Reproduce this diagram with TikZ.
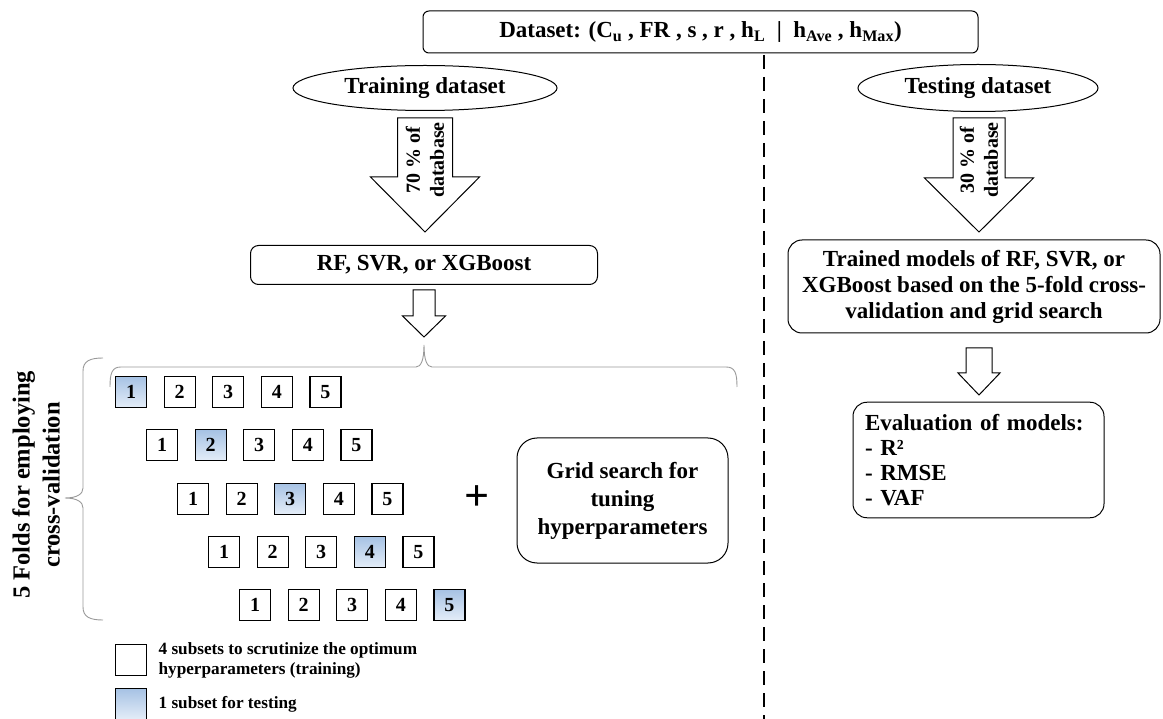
\documentclass[tikz,border=0pt]{standalone}
\usepackage{fontspec}
\setmainfont{Liberation Serif}
\usetikzlibrary{positioning,shapes.geometric}
\definecolor{foldblue}{RGB}{166,194,228}
\definecolor{foldpale}{RGB}{228,237,248}
\newcommand{\blockarrow}[6]{% x, top, half shaft, half head, head start, tip
  \draw[line width=1pt,fill=white] (#1-#3,#2) -- (#1+#3,#2) -- (#1+#3,#5)
    -- (#1+#4,#5) -- (#1,#6) -- (#1-#4,#5) -- (#1-#3,#5) -- cycle;}
\tikzset{%
  bigfont/.style={font=\bfseries\fontsize{23}{27}\selectfont},
  rbox/.style={draw,rounded corners=8pt,line width=1pt,align=center,bigfont},
  oval/.style={draw,ellipse,line width=1pt,inner sep=0pt,bigfont},
  arrowlabel/.style={rotate=90,align=center,font=\bfseries\fontsize{20}{24}\selectfont},
  trainfold/.style={draw,line width=1.2pt,minimum size=31pt,inner sep=0pt,
    font=\bfseries\fontsize{20}{20}\selectfont},
  testfold/.style={trainfold,top color=foldblue,bottom color=foldpale},
  keytext/.style={align=left,font=\bfseries\fontsize{17.2}{20}\selectfont},
  bracket/.style={draw=gray!80,line width=.9pt}
}

\begin{document}
\begin{tikzpicture}[x=1pt,y=-1pt]
  \useasboundingbox (0,0) rectangle (1163,719);

  % header and divider
  \node[rbox,rounded corners=6pt,minimum width=555pt,minimum height=42pt] (data) at (700.5,32)
    {Dataset: (C\textsubscript{u} , FR , s , r , h\textsubscript{L} \ | \ h\textsubscript{Ave} , h\textsubscript{Max})};
  \coordinate (divtop) at (764,55);
  \coordinate (divbot) at (764,719);
  \draw[line width=1.2pt,dash pattern=on 14pt off 8pt] (divtop) -- (divbot);

  % training side
  \node[oval,minimum width=264pt,minimum height=45pt] (train) at (425,88) {Training dataset};
  \blockarrow{425}{118}{27.5}{54.5}{177}{232}
  \node[arrowlabel] (trainshare) at (425,160) {70 \% of\\database};
  \node[rbox,minimum width=347pt,minimum height=39pt] (models) at (424,265) {RF, SVR, or XGBoost};
  \blockarrow{424}{290}{11}{21.5}{316}{337}

  % braces round the folds
  \draw[bracket] (110,387) .. controls (110,373) and (112,367) .. (121,367) -- (416,367)
    .. controls (421,367) and (424,360) .. (424,345) .. controls (424,360) and (427,367) .. (432,367)
    -- (726,367) .. controls (735,367) and (737,373) .. (737,387);
  \draw[bracket] (103,358) .. controls (90,358) and (83,361) .. (83,371) -- (83,488)
    .. controls (83,494) and (77,498) .. (65,498) .. controls (77,498) and (83,502) .. (83,508)
    -- (83,607) .. controls (83,617) and (90,620) .. (103,620);
  \node[rotate=90,align=center,font=\bfseries\fontsize{24.5}{30}\selectfont] (foldlabel) at (36,485)
    {5 Folds for employing\\cross-validation};

  % the five folds
  \foreach \r in {1,...,5} {
    \foreach \c in {1,...,5} {
      \ifnum\c=\r \def\sty{testfold}\else\def\sty{trainfold}\fi
      \node[\sty] (f\r\c) at ({131+31*(\r-1)+48.6*(\c-1)},{392+53.3*(\r-1)}) {\c};
    }
  }

  \node[font=\bfseries\fontsize{44}{44}\selectfont] (plus) at (477,498) {+};
  \node[rbox,rounded corners=20pt,minimum width=211pt,minimum height=125pt,
    font=\bfseries\fontsize{23}{28}\selectfont] (grid) at (622.5,500.5)
    {Grid search for\\tuning\\hyperparameters};

  % key
  \node[trainfold] (keytrain) at (131,660) {};
  \node[keytext,right=8pt of keytrain] (keytraintext) {4 subsets to scrutinize the optimum\\hyperparameters (training)};
  \node[testfold] (keytest) at (131,704) {};
  \node[keytext,right=8pt of keytest] (keytesttext) {1 subset for testing};

  % testing side
  \node[oval,minimum width=240pt,minimum height=47pt] (test) at (978,88) {Testing dataset};
  \blockarrow{979}{118}{26}{54.5}{178}{232}
  \node[arrowlabel] (testshare) at (979,160) {30 \% of\\database};
  \node[rbox,rounded corners=14pt,minimum width=372pt,minimum height=93pt,
    font=\bfseries\fontsize{23}{26}\selectfont] (trained) at (974,286.5)
    {Trained models of RF, SVR, or\\XGBoost based on the 5-fold cross-\\validation and grid search};
  \blockarrow{979}{348}{13}{21}{373}{395}
  \node[rbox,rounded corners=14pt,inner sep=12pt,text width=227pt,minimum height=104pt,
    align=left,font=\bfseries\fontsize{23}{25}\selectfont] (eval) at (978.5,460)
    {Evaluation of models:\\- R²\\- RMSE\\- VAF};
\end{tikzpicture}
\end{document}
